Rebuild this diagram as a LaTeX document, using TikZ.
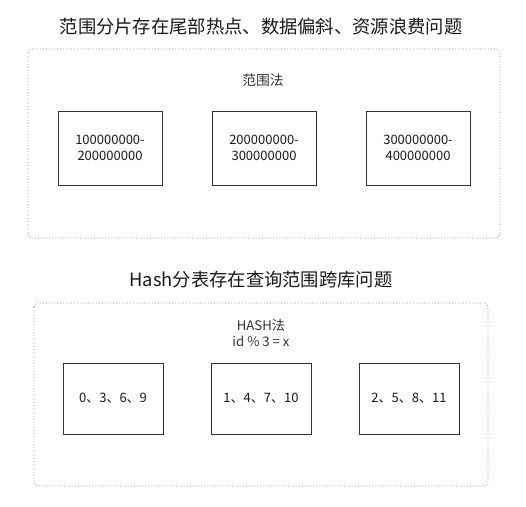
\documentclass[tikz,border=0pt]{standalone}
\usepackage{fontspec}
\setmainfont{Noto Sans CJK SC}
\begin{document}
\begin{tikzpicture}[x=1pt,y=-1pt,
  container/.style={draw=black!45, dotted, line width=0.8pt, rounded corners=4pt},
  shard/.style={draw=black!80, line width=0.9pt, fill=white},
  title/.style={font=\fontsize{18.3}{21}\selectfont, text=black!90},
  lbl/.style={font=\fontsize{13.8}{15}\selectfont, text=black!80, align=center},
  boxtxt/.style={font=\fontsize{13}{16}\selectfont, text=black!90, align=center}]
\useasboundingbox (0,0) rectangle (526,506);
% top section
\node[title] (t1) at (261,27) {范围分片存在尾部热点、数据偏斜、资源浪费问题};
\draw[container] (28,49) rectangle (500,238);
\node[lbl] (l1) at (263,80) {范围法};
\node[shard, minimum width=104pt, minimum height=74pt] (r1) at (110,148) {};
\node[shard, minimum width=104pt, minimum height=74pt] (r2) at (264,148) {};
\node[shard, minimum width=104pt, minimum height=74pt] (r3) at (418,148) {};
\node[boxtxt] (r1t) at (r1) {100000000-\\200000000};
\node[boxtxt] (r2t) at (r2) {200000000-\\300000000};
\node[boxtxt] (r3t) at (r3) {300000000-\\400000000};
% bottom section
\node[title] (t2) at (261,280) {Hash分表存在查询范围跨库问题};
\draw[container] (34,303) rectangle (488,486);
\node[lbl, font=\fontsize{13.2}{16}\selectfont] (l2) at (261,333) {HASH法\\id \% 3 = x};
\node[shard, minimum width=100pt, minimum height=71pt] (h1) at (113,398.5) {};
\node[shard, minimum width=100pt, minimum height=71pt] (h2) at (261,398.5) {};
\node[shard, minimum width=100pt, minimum height=71pt] (h3) at (409,398.5) {};
\node[boxtxt] (h1t) at (h1) {0、3、6、9};
\node[boxtxt] (h2t) at (h2) {1、4、7、10};
\node[boxtxt] (h3t) at (h3) {2、5、8、11};
\end{tikzpicture}
\end{document}
